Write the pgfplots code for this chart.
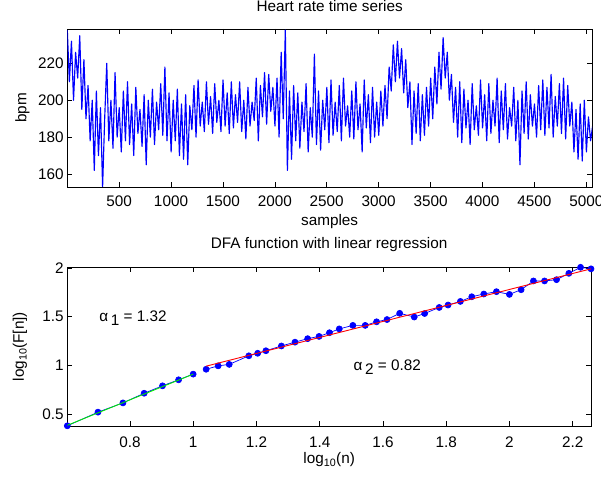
\documentclass[border=0pt]{standalone}
\usepackage{pgfplots}
\pgfplotsset{compat=1.18}
\usepackage{pgfplotstable}
\usepackage{fontspec}
\setmainfont{Liberation Sans}
\definecolor{mblue}{RGB}{0,0,255}
\definecolor{mgreen}{RGB}{0,235,0}
\definecolor{mred}{RGB}{255,0,0}
\newcommand{\fs}{\fontsize{15.3bp}{18bp}\selectfont}

\pgfplotstableread[row sep=\\]{
v\\
238\\210\\232\\200\\226\\212\\235\\195\\222\\190\\
208\\178\\200\\162\\205\\170\\196\\153\\190\\220\\
178\\200\\174\\215\\180\\196\\172\\205\\178\\210\\
176\\198\\170\\207\\182\\195\\175\\203\\165\\200\\
180\\206\\176\\199\\184\\209\\181\\218\\178\\204\\
172\\200\\178\\206\\170\\198\\168\\203\\165\\197\\
184\\208\\180\\211\\186\\199\\183\\210\\187\\202\\
182\\209\\188\\200\\183\\211\\186\\204\\182\\210\\
185\\203\\188\\210\\183\\200\\179\\207\\186\\199\\
189\\212\\178\\208\\191\\215\\187\\214\\194\\207\\
186\\212\\180\\226\\190\\238\\162\\205\\168\\208\\
178\\204\\174\\199\\183\\209\\172\\196\\180\\225\\
176\\205\\173\\200\\184\\207\\177\\211\\181\\199\\
183\\208\\178\\212\\186\\197\\180\\205\\179\\210\\
184\\198\\172\\211\\185\\203\\177\\207\\180\\199\\
181\\205\\186\\208\\190\\218\\205\\230\\210\\232\\
212\\228\\204\\222\\196\\210\\176\\205\\182\\209\\
178\\203\\181\\207\\186\\212\\190\\218\\198\\226\\
206\\234\\212\\226\\200\\214\\188\\207\\180\\210\\
177\\206\\185\\200\\176\\209\\184\\197\\181\\211\\
185\\203\\178\\209\\182\\200\\186\\212\\177\\205\\
184\\209\\179\\196\\186\\207\\178\\200\\165\\205\\
182\\210\\179\\203\\186\\198\\180\\208\\184\\211\\
181\\207\\185\\214\\180\\202\\186\\209\\182\\212\\
179\\208\\186\\199\\172\\195\\168\\198\\167\\200\\
172\\191\\178\\186\\
}\hr

\pgfplotstableread{
x y
0.602 0.38
0.699 0.52
0.778 0.615
0.845 0.714
0.903 0.79
0.954 0.852
1.000 0.91
}\dfaA

\pgfplotstableread{
x y
1.041 0.96
1.079 0.995
1.114 1.01
1.176 1.098
1.204 1.124
1.230 1.15
1.279 1.199
1.322 1.238
1.362 1.274
1.398 1.297
1.431 1.335
1.462 1.374
1.505 1.41
1.544 1.41
1.580 1.447
1.613 1.47
1.653 1.534
1.699 1.496
1.732 1.532
1.778 1.594
1.806 1.619
1.845 1.656
1.881 1.704
1.919 1.732
1.959 1.756
2.000 1.728
2.037 1.776
2.076 1.866
2.111 1.866
2.149 1.879
2.188 1.944
2.225 2.006
2.258 1.99
}\dfaB

\pgfplotstableread{
x y
0.602 0.385
1.000 0.91
}\fitA

\pgfplotstableread{
x y
1.041 0.992
2.258 1.99
}\fitB

\begin{document}
\begin{tikzpicture}
\path[use as bounding box] (0,0) rectangle (601bp,478bp);
\pgfplotsset{
  mstyle/.style={
    scale only axis,
    anchor=south west,
    tick align=inside,
    major tick length=5bp,
    tick style={black, line width=0.6bp},
    axis line style={black, line width=0.9bp},
    tick label style={font=\fs},
    label style={font=\fs},
    title style={font=\fs},
    /pgf/number format/assume math mode=true,
    /pgf/number format/1000 sep={},
    yticklabel style={anchor=east, inner sep=0pt, xshift=-3.5bp},
  }
}
\begin{axis}[mstyle,
  at={(67.3bp,291bp)}, width=524.7bp, height=158bp,
  xmin=1, xmax=5055, ymin=153, ymax=238.6,
  xtick={500,1000,...,5000}, ytick={160,180,200,220},
  xticklabel style={anchor=center, yshift=-14.7bp},
  title={Heart rate time series},
  title style={at={(axis description cs:0.5,1.108)}, anchor=center},
  xlabel={samples},
  xlabel style={at={(axis description cs:0.5,-0.22)}, anchor=center},
  ylabel={bpm},
  ylabel style={at={(axis description cs:-0.0857,0.5)}, anchor=center},
]
\addplot[mblue, line width=1.15bp, line join=round] table[x expr=\coordindex*20+1, y=v] {\hr};
\end{axis}

\begin{axis}[mstyle,
  at={(67.3bp,52bp)}, width=523.7bp, height=158.7bp,
  xmin=0.602, xmax=2.258, ymin=0.378, ymax=2.006,
  xtick={0.8,1,...,2.2}, ytick={0.5,1,1.5,2},
  xticklabel style={anchor=center, yshift=-16.5bp},
  clip mode=individual,
  title={DFA function with linear regression},
  title style={at={(axis description cs:0.5,1.104)}, anchor=center},
  xlabel={log\textsubscript{10}(n)},
  xlabel style={at={(axis description cs:0.5,-0.214)}, anchor=center},
  ylabel={log\textsubscript{10}(F[n])},
  ylabel style={at={(axis description cs:-0.0903,0.5)}, anchor=center},
]
\addplot[mblue, line width=0.7bp, mark=*, mark size=3bp, mark options={fill=mblue, draw=mblue}] table[x=x,y=y] {\dfaA};
\addplot[mblue, line width=0.7bp, mark=*, mark size=3bp, mark options={fill=mblue, draw=mblue}] table[x=x,y=y] {\dfaB};
\addplot[mgreen, line width=0.9bp] table[x=x,y=y] {\fitA};
\addplot[mred, line width=0.9bp] table[x=x,y=y] {\fitB};
\node[anchor=base west, inner sep=0pt, font=\fs] at (axis cs:0.703,1.448) {α\,\raisebox{-0.5ex}{1} = 1.32};
\node[anchor=base west, inner sep=0pt, font=\fs] at (axis cs:1.507,0.952) {α\,\raisebox{-0.5ex}{2} = 0.82};
\end{axis}
\end{tikzpicture}
\end{document}
